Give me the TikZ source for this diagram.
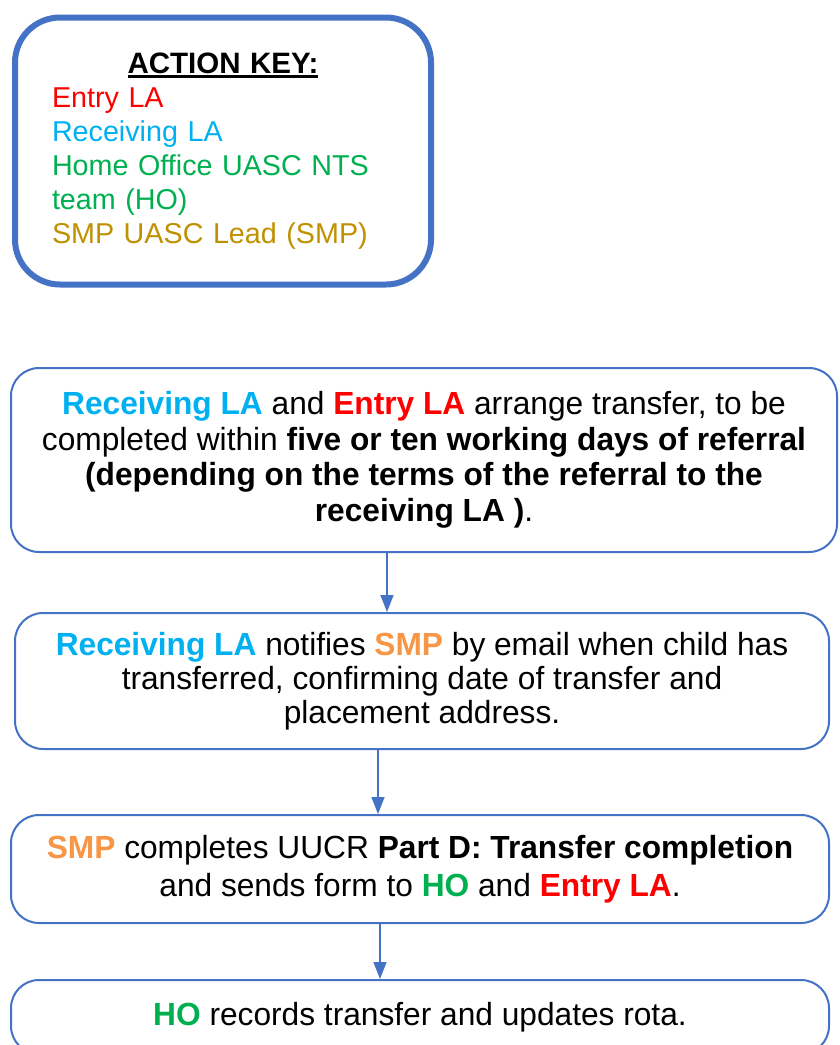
\documentclass[tikz,border=0pt]{standalone}
\usepackage{fontspec}
\setmainfont{Liberation Sans}
\newfontfamily\narrowfont[FakeStretch=0.99]{Liberation Sans}
\usetikzlibrary{arrows.meta}

\definecolor{lineblue}{HTML}{4472C4}
\definecolor{entryla}{HTML}{FF0000}
\definecolor{recvla}{HTML}{00B0F0}
\definecolor{homeoff}{HTML}{00B050}
\definecolor{smpkey}{HTML}{BF9000}
\definecolor{smpbox}{HTML}{F79646}

\newcommand{\ulkey}[1]{\setbox0\hbox{#1}\rlap{\rule[-5pt]{\wd0}{3pt}}\box0}
\newcommand{\who}[2]{{\bfseries\color{#1}#2}}

\tikzset{
  keybox/.style={draw=lineblue, line width=6pt, rounded corners=45pt,
    minimum width=416pt, minimum height=267pt, text width=342pt, align=left,
    font=\fontsize{28.7}{34}\selectfont},
  stagebox/.style={draw=lineblue, line width=2pt, rounded corners=28pt,
    align=center, inner sep=0pt},
  link/.style={draw=lineblue, line width=1.5pt, -{Triangle[width=13pt,length=17pt]}}
}

\begin{document}
\begin{tikzpicture}[x=1pt, y=-1pt]
\useasboundingbox (0,0) rectangle (840,1045);
%Nodes
\node[keybox] (key) at (223,151) {\makebox[\linewidth]{\ulkey{\fontsize{29.5}{34}\selectfont\bfseries ACTION KEY:}}\\
  {\color{entryla}Entry LA}\\
  {\color{recvla}Receiving LA}\\
  {\color{homeoff}Home Office UASC NTS}\\
  {\color{homeoff}team (HO)}\\
  {\color{smpkey}SMP UASC Lead (SMP)}};

\node[stagebox, minimum width=826pt, minimum height=184pt,
  font=\narrowfont\fontsize{32}{35.5}\selectfont] (stage1) at (424,460)
  {\who{recvla}{Receiving LA} and \who{entryla}{Entry LA} arrange transfer, to be\\
   completed within \textbf{five or ten working days of referral}\\
   \textbf{(depending on the terms of the referral to the}\\
   \textbf{receiving LA )}.};

\node[stagebox, minimum width=814pt, minimum height=136pt,
  font=\narrowfont\fontsize{32}{34}\selectfont] (stage2) at (422,681)
  {\who{recvla}{Receiving LA} notifies \who{smpbox}{SMP} by email when child has\\
   transferred, confirming date of transfer and\\
   placement address.};

\node[stagebox, minimum width=818pt, minimum height=108pt,
  font=\narrowfont\fontsize{32}{38}\selectfont] (stage3) at (420,869)
  {\who{smpbox}{SMP} completes UUCR \textbf{Part D: Transfer completion}\\
   and sends form to \who{homeoff}{HO} and \who{entryla}{Entry LA}.};

\node[stagebox, minimum width=818pt, minimum height=74pt,
  font=\narrowfont\fontsize{32}{38}\selectfont] (stage4) at (420,1017)
  {\who{homeoff}{HO} records transfer and updates rota.};

%Lines
\draw[link] ([xshift=-37pt]stage1.south) -- ([xshift=-35pt]stage2.north);
\draw[link] ([xshift=-44pt]stage2.south) -- ([xshift=-42pt]stage3.north);
\draw[link] ([xshift=-40pt]stage3.south) -- ([xshift=-40pt]stage4.north);
\end{tikzpicture}
\end{document}
